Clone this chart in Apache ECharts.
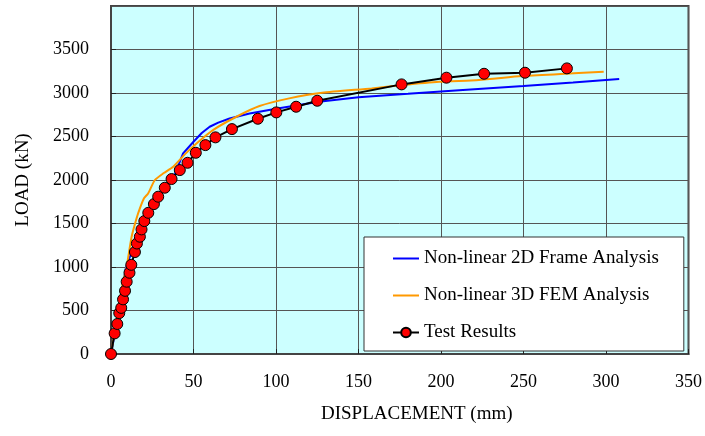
<!DOCTYPE html>
<html>
<head>
<meta charset="utf-8">
<script src="https://cdn.jsdelivr.net/npm/echarts@6/dist/echarts.min.js"></script>
<style>
    html, body { margin: 0; padding: 0; background: #fff; }
    #chart { width: 705px; height: 436px; }
</style>
</head>
<body>
<div id="chart"></div>
<script>
// 数据
let testX = [0, 2.2, 3.8, 5.0, 6.2, 7.3, 8.5, 9.5, 11.2, 12.3, 14.5, 15.7, 17.5, 18.5, 20.2, 22.6, 26, 28.6, 32.6, 36.7, 41.7, 46.4, 51.4, 57.2, 63.3, 73.3, 89.0, 100.2, 112.2, 125, 176.1, 203.3, 226.1, 250.9, 276.3];
let testY = [0, 237, 345, 470, 530, 628, 726, 831, 934, 1025, 1172, 1270, 1348, 1432, 1528, 1623, 1723, 1808, 1911, 2011, 2114, 2198, 2313, 2401, 2490, 2585, 2704, 2777, 2842, 2911, 3099, 3176, 3221, 3233, 3283];

let frameX = [0, 5, 9, 13, 18.5, 26, 32, 37.6, 43.7, 50, 55, 59.8, 65, 71.9, 84, 100, 126, 150, 180, 211, 250, 280, 308];
let frameY = [0, 520, 990, 1200, 1460, 1723, 1890, 2010, 2306, 2440, 2540, 2612, 2660, 2707, 2764, 2820, 2900, 2950, 2990, 3033, 3080, 3120, 3160];

let femX = [0, 4.4, 7, 9.5, 12.5, 15.5, 17.5, 20, 22.5, 26.6, 32, 37.7, 45, 51.8, 61.8, 76, 90, 108, 128, 158, 176.5, 199, 223, 249, 275, 298.6];
let femY = [0, 505, 800, 1003, 1348, 1560, 1674, 1790, 1846, 2000, 2080, 2153, 2300, 2420, 2574, 2727, 2850, 2938, 3003, 3053, 3091, 3129, 3150, 3194, 3220, 3244];

let seriesNames = ['Non-linear 2D Frame Analysis', 'Non-linear 3D FEM Analysis', 'Test Results'];

function pairs(xs, ys) {
    return xs.map(function (x, i) { return [x, ys[i]]; });
}

let font = 'Liberation Serif';
let lineIcon = 'path://M0,0L26,0L26,2L0,2Z';
let myChart = echarts.init(document.getElementById('chart'));

let option = {
    animation: false,
    grid: {
        left: 111, top: 6, right: 15, bottom: 82,
        show: true,
        backgroundColor: '#ccffff',
        borderColor: '#444',
        borderWidth: 2
    },
    xAxis: {
        type: 'value',
        min: 0, max: 350, interval: 50,
        name: 'DISPLACEMENT (mm)',
        nameLocation: 'middle',
        nameGap: 51,
        nameTextStyle: { fontFamily: font, fontSize: 19, color: '#000', padding: [0, 0, 0, 34] },
        axisLine: { show: true, lineStyle: { color: '#444', width: 2 } },
        axisTick: { show: true, inside: true, length: 5, lineStyle: { color: '#222' } },
        axisLabel: { fontFamily: font, fontSize: 18, color: '#000', margin: 19 },
        splitLine: { show: true, lineStyle: { color: '#555', width: 1 } }
    },
    yAxis: {
        type: 'value',
        min: 0, max: 4000, interval: 500,
        name: 'LOAD (kN)',
        nameLocation: 'middle',
        nameGap: 78,
        nameTextStyle: { fontFamily: font, fontSize: 19, color: '#000' },
        axisLine: { show: true, lineStyle: { color: '#444', width: 2 } },
        axisTick: { show: true, inside: true, length: 5, lineStyle: { color: '#222' } },
        axisLabel: {
            fontFamily: font, fontSize: 18, color: '#000', margin: 22, showMaxLabel: false,
            formatter: function (v) { return String(v); }
        },
        splitLine: { show: true, lineStyle: { color: '#555', width: 1 } }
    },
    legend: {
        orient: 'vertical',
        left: 364, top: 237,
        padding: [12, 25, 9, 28],
        itemGap: 18,
        itemWidth: 26,
        itemHeight: 12,
        backgroundColor: '#fff',
        borderColor: '#333',
        borderWidth: 1,
        textStyle: { fontFamily: font, fontSize: 19, color: '#000' },
        data: [
            { name: seriesNames[0], icon: lineIcon },
            { name: seriesNames[1], icon: lineIcon },
            { name: seriesNames[2] }
        ]
    },
    series: [{
        name: seriesNames[0],
        type: 'line',
        data: pairs(frameX, frameY),
        symbol: 'none',
        lineStyle: { color: '#0000ff', width: 2 },
        itemStyle: { color: '#0000ff' },
        z: 2
    }, {
        name: seriesNames[1],
        type: 'line',
        data: pairs(femX, femY),
        symbol: 'none',
        smooth: 0.2,
        lineStyle: { color: '#ff9900', width: 2 },
        itemStyle: { color: '#ff9900' },
        z: 3
    }, {
        name: seriesNames[2],
        type: 'line',
        data: pairs(testX, testY),
        symbol: 'circle',
        symbolSize: 11,
        lineStyle: { color: '#000', width: 2 },
        itemStyle: { color: '#ff0000', borderColor: '#000', borderWidth: 1 },
        z: 4
    }]
};
myChart.setOption(option);
</script>
</body>
</html>
